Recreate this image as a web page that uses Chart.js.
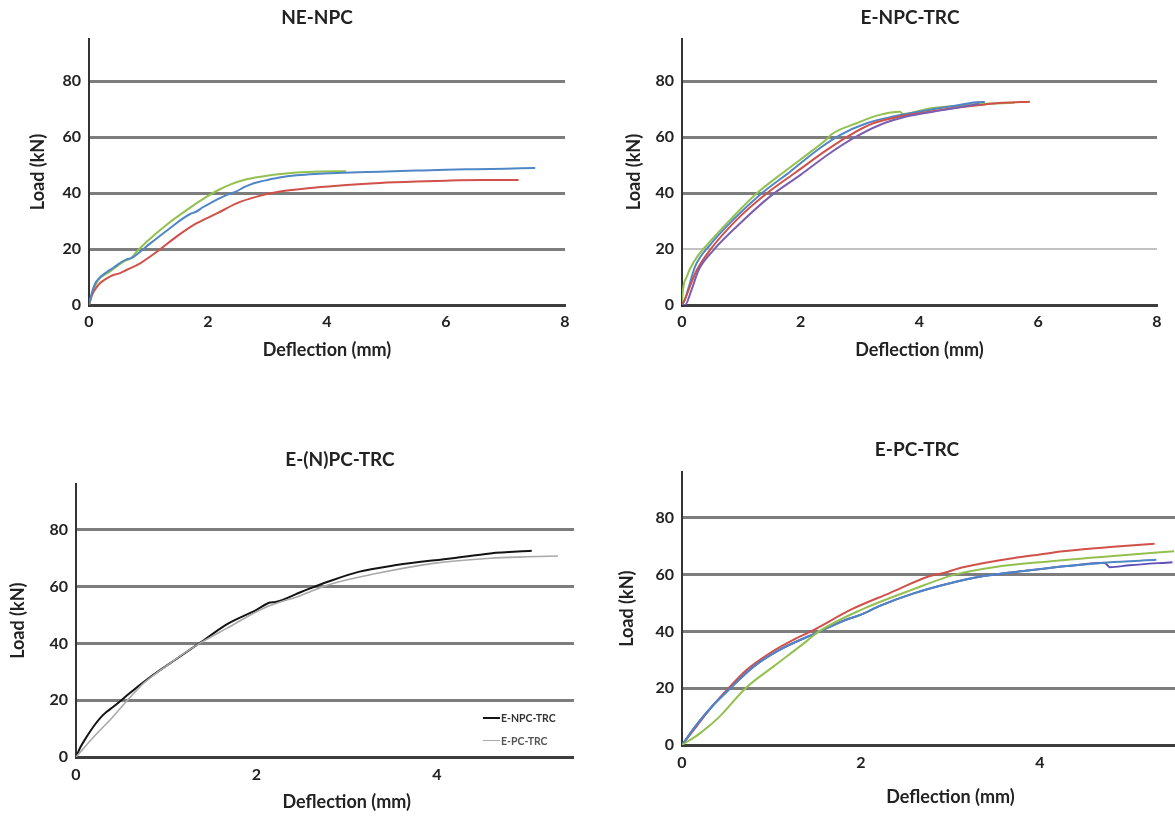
<!DOCTYPE html>
<html>
<head>
<meta charset="utf-8">
<script src="https://cdn.jsdelivr.net/npm/chart.js@4/dist/chart.umd.min.js"></script>
<style>
  html, body { margin: 0; padding: 0; background: #fff; }
  body { width: 1175px; height: 824px; overflow: hidden; position: relative; font-family: Lato, 'Open Sans', sans-serif; }
  .panel { position: absolute; }
  .legend-line { position: absolute; }
  .legend-text { position: absolute; font: bold 10.5px Lato, 'Open Sans', sans-serif; line-height: 12px; white-space: nowrap; }
</style>
</head>
<body>
<div class="panel" style="left:0;top:0;width:634px;height:380px"><canvas id="c1" width="634" height="380"></canvas></div>
<div class="panel" style="left:590px;top:0;width:640px;height:380px"><canvas id="c2" width="640" height="380"></canvas></div>
<div class="panel" style="left:0;top:430px;width:574px;height:394px;overflow:hidden"><canvas id="c3" width="680" height="394"></canvas></div>
<div class="panel" style="left:600px;top:430px;width:634px;height:394px"><canvas id="c4" width="634" height="394"></canvas></div>
<div id="legend3"></div>
<script>
// ---------- titles / labels ----------
const panelTitles = ['NE-NPC', 'E-NPC-TRC', 'E-(N)PC-TRC', 'E-PC-TRC'];
const xAxisTitle = 'Deflection (mm)';
const yAxisTitle = 'Load (kN)';
const yTickValues = [0, 20, 40, 60, 80];
const xTickStep = 2;

// ---------- NE-NPC ----------
const neNpcBlueX = [0, 0.05, 0.1, 0.18, 0.3, 0.41, 0.52, 0.63, 0.72, 0.83, 1.03, 1.2, 1.36, 1.55, 1.7, 1.8, 1.92, 2.05, 2.2, 2.35, 2.48, 2.6, 2.71, 2.85, 2.99, 3.2, 3.49, 3.8, 4.27, 4.89, 5.5, 6.0, 6.5, 7.0, 7.5];
const neNpcBlueY = [0, 4.5, 7.5, 9.8, 11.8, 13.3, 15, 16.3, 16.8, 18.5, 22, 24.8, 27.4, 30.5, 32.5, 33.3, 35, 36.5, 38.2, 39.6, 40.6, 42, 43, 43.9, 44.6, 45.5, 46.3, 46.8, 47.2, 47.6, 48.0, 48.3, 48.5, 48.7, 48.9];
const neNpcRedX = [0, 0.05, 0.1, 0.18, 0.3, 0.41, 0.5, 0.63, 0.86, 1.14, 1.47, 1.81, 2.15, 2.48, 2.82, 3.21, 3.77, 4.33, 4.89, 5.5, 6.0, 6.6, 7.22];
const neNpcRedY = [0, 3.5, 5.5, 7.7, 9.5, 10.7, 11.2, 12.5, 14.9, 19, 24.4, 29.2, 32.7, 36.3, 38.7, 40.5, 41.9, 42.9, 43.6, 44.1, 44.4, 44.6, 44.6];
const neNpcGreenX = [0, 0.05, 0.1, 0.18, 0.35, 0.58, 0.7, 0.8, 0.97, 1.3, 1.64, 1.98, 2.15, 2.37, 2.65, 2.99, 3.49, 3.9, 4.27, 4.32];
const neNpcGreenY = [0, 4, 6.8, 9.5, 11.9, 15.5, 16.6, 19, 22.6, 28.6, 33.9, 38.7, 40.8, 43, 44.9, 46.2, 47.3, 47.7, 47.8, 47.7];

// ---------- E-NPC-TRC ----------
const eNpcPurpleX = [0, 0.05, 0.16, 0.28, 0.53, 0.98, 1.48, 1.99, 2.49, 2.88, 3.33, 3.78, 4.4, 4.9, 5.0];
const eNpcPurpleY = [0, 0, 5.4, 12.5, 19.6, 29.2, 38.7, 46.4, 54.2, 59.5, 64.3, 67.3, 69.6, 71.4, 71.8];
const eNpcRedX = [0, 0.05, 0.13, 0.25, 0.47, 0.92, 1.43, 1.93, 2.44, 2.83, 3.22, 3.67, 4.34, 5.02, 5.4, 5.86];
const eNpcRedY = [0, 2, 6.5, 12.5, 19.6, 30.4, 39.9, 47.6, 55.4, 60.7, 64.9, 67.3, 69.6, 71.4, 72.2, 72.6];
const eNpcBlueX = [0, 0.05, 0.1, 0.22, 0.47, 0.86, 1.31, 1.82, 2.32, 2.66, 3.11, 3.56, 4.23, 4.6, 4.96, 5.1];
const eNpcBlueY = [0, 2, 5.4, 13.7, 21.4, 30.4, 39.3, 47.6, 56, 60.7, 64.9, 67.3, 69.9, 71.2, 72.4, 72.5];
const eNpcGreenX = [0, 0.01, 0.08, 0.22, 0.47, 0.81, 1.26, 1.76, 2.21, 2.45, 2.52, 2.94, 3.33, 3.67, 3.72, 4.17, 4.6, 5.01, 5.3, 5.6];
const eNpcGreenY = [0, 4, 10.1, 16.1, 22.6, 30.4, 39.9, 48.2, 55.4, 59.5, 61, 64.9, 67.9, 69, 68.2, 70.2, 71.1, 71.8, 72, 72.2];

// ---------- E-(N)PC-TRC ----------
const compareLabels = ['E-NPC-TRC', 'E-PC-TRC'];
const compNpcX = [0, 0.05, 0.12, 0.2, 0.27, 0.34, 0.41, 0.5, 0.58, 0.83, 1.12, 1.42, 1.67, 2.0, 2.15, 2.21, 2.5, 2.79, 3.13, 3.55, 4.17, 4.59, 5.05];
const compNpcY = [0, 3.5, 7.2, 11, 13.8, 15.9, 17.6, 19.9, 22.1, 28.3, 34.7, 41.2, 46.7, 51.8, 54.4, 54.6, 58.2, 61.7, 65.2, 67.6, 70, 71.7, 72.6];
const compPcX = [0, 0.2, 0.41, 0.54, 0.75, 1.04, 1.37, 1.67, 2.08, 2.5, 2.79, 3.34, 3.96, 4.59, 5.0, 5.34];
const compPcY = [0, 7.2, 14.2, 18.9, 26, 33, 40, 45.3, 52.4, 57, 60.6, 64.7, 68.2, 70, 70.5, 70.8];

// ---------- E-PC-TRC ----------
const ePcGreenX = [0, 0.2, 0.42, 0.71, 1.02, 1.39, 1.53, 2.0, 2.58, 3.05, 3.52, 4.0, 4.82, 5.5];
const ePcGreenY = [0, 4.1, 10, 20, 27.6, 36.5, 40, 47.6, 54.8, 60, 62.8, 64.4, 66.6, 68.2];
const ePcBlueX = [0, 0.16, 0.35, 0.54, 0.8, 1.09, 1.54, 1.84, 2.0, 2.21, 2.58, 2.96, 3.37, 3.89, 4.3, 4.75, 5.3];
const ePcBlueY = [0, 7, 14.1, 20, 27.6, 33.5, 40, 44.2, 45.9, 49, 53.3, 56.7, 59.5, 61.5, 63, 64.3, 65.2];
const ePcPurpleX = [0, 0.16, 0.35, 0.54, 0.8, 1.09, 1.54, 1.84, 2.0, 2.21, 2.58, 2.96, 3.37, 3.89, 4.3, 4.72, 4.78, 5.0, 5.48];
const ePcPurpleY = [0, 7, 14.1, 20, 27.6, 33.5, 40, 44.2, 45.9, 49, 53.3, 56.7, 59.5, 61.5, 63, 64.2, 62.6, 63.3, 64.4];
const ePcRedX = [0, 0.16, 0.35, 0.52, 0.72, 0.98, 1.28, 1.44, 1.91, 2.32, 2.77, 2.91, 3.14, 3.7, 4.0, 4.26, 4.82, 5.28];
const ePcRedY = [0, 6.5, 14.1, 20.0, 26.4, 32.3, 37.6, 40, 48, 53.5, 59.5, 60.5, 62.6, 65.8, 67.1, 68.2, 69.8, 70.9];

// ---------- colours ----------
const BLUE = '#4f86c6', RED = '#d0504a', GREEN = '#93c04f', PURPLE = '#7a5fb0', PURPLE2 = '#5f50b8';
const FONT = "Lato, 'Open Sans', sans-serif";

function series(label, xs, ys, color, width) {
  return { label, xs, ys, color, width: width || 2 };
}

function buildChart(id, cfg) {
  const datasets = cfg.series.map(s => ({
    label: s.label,
    data: s.xs.map((x, i) => ({ x: x, y: s.ys[i] })),
    borderColor: s.color,
    backgroundColor: s.color,
    borderWidth: s.width,
    pointRadius: 0,
    fill: false,
    cubicInterpolationMode: 'monotone',
    xAxisID: 'x',
    yAxisID: 'y'
  }));
  return new Chart(document.getElementById(id), {
    type: 'line',
    data: { datasets },
    options: {
      responsive: false,
      animation: false,
      devicePixelRatio: 1,
      layout: { padding: 0 },
      plugins: {
        legend: { display: false },
        tooltip: { enabled: false },
        title: {
          display: true, text: cfg.title, color: '#222',
          font: { family: FONT, size: 19, weight: 'bold' },
          padding: { top: cfg.titleTop, bottom: cfg.titleBottom }
        }
      },
      scales: {
        x: {
          type: 'linear', position: 'bottom', min: 0, max: cfg.xMax,
          afterBuildTicks: ax => { ax.ticks = ax.ticks.filter(t => Math.abs(t.value % xTickStep) < 1e-9); },
          afterFit: ax => { ax.height = cfg.xAxisH; },
          ticks: { stepSize: xTickStep, padding: cfg.xTickPad, color: '#222', font: { family: FONT, size: 16, weight: 'bold' } },
          grid: { display: false, drawTicks: false },
          border: { display: true, color: '#3d3d3d', width: 3 },
          title: { display: true, text: xAxisTitle, color: '#222', font: { family: FONT, size: 18, weight: 'bold' }, padding: { top: 0, bottom: cfg.xTitleBottom } }
        },
        y: {
          type: 'linear', position: 'left', min: 0, max: cfg.yMax,
          afterBuildTicks: ax => { ax.ticks = ax.ticks.filter(t => yTickValues.includes(t.value)); },
          afterFit: ax => { ax.width = cfg.yAxisW; },
          ticks: { stepSize: 20, padding: 8, color: '#222', font: { family: FONT, size: 16, weight: 'bold' } },
          grid: {
            drawTicks: false,
            color: c => c.tick && c.tick.value === 0 ? '#3d3d3d' : (cfg.light20 && c.tick && c.tick.value === 20 ? '#c2c2c2' : '#7d7d7d'),
            lineWidth: c => c.tick && c.tick.value === 20 && cfg.light20 ? 2 : 3
          },
          border: { display: true, color: '#333', width: 2 },
          title: { display: true, text: yAxisTitle, color: '#222', font: { family: FONT, size: 18, weight: 'bold' }, padding: { top: cfg.yTitleTop, bottom: 0 } }
        },
        pad: {
          type: 'linear', position: 'right', display: true,
          afterFit: ax => { ax.width = cfg.rightW; },
          ticks: { display: false },
          grid: { display: false, drawTicks: false },
          border: { display: false },
          title: { display: false }
        }
      }
    }
  });
}

buildChart('c1', {
  title: panelTitles[0], xMax: 8, yMax: 95,
  yAxisW: 89, rightW: 69, xAxisH: 75,
  titleTop: 6.6, titleBottom: 9.6, xTickPad: 7, xTitleBottom: 19.2, yTitleTop: 27.2,
  series: [
    series('NE-NPC 1', neNpcBlueX, neNpcBlueY, BLUE),
    series('NE-NPC 2', neNpcRedX, neNpcRedY, RED),
    series('NE-NPC 3', neNpcGreenX, neNpcGreenY, GREEN)
  ]
});

buildChart('c2', {
  title: panelTitles[1], xMax: 8, yMax: 95, light20: true,
  yAxisW: 92, rightW: 73, xAxisH: 75,
  titleTop: 6.6, titleBottom: 9.6, xTickPad: 7, xTitleBottom: 19.2, yTitleTop: 33.2,
  series: [
    series('E-NPC-TRC 1', eNpcPurpleX, eNpcPurpleY, PURPLE),
    series('E-NPC-TRC 2', eNpcRedX, eNpcRedY, RED),
    series('E-NPC-TRC 3', eNpcBlueX, eNpcBlueY, BLUE),
    series('E-NPC-TRC 4', eNpcGreenX, eNpcGreenY, GREEN)
  ]
});

buildChart('c3', {
  title: panelTitles[2], xMax: 6, yMax: 96,
  yAxisW: 76, rightW: 62.5, xAxisH: 67,
  titleTop: 18.6, titleBottom: 13, xTickPad: 8.4, xTitleBottom: 11.2, yTitleTop: 7.2,
  series: [
    series(compareLabels[1], compPcX, compPcY, '#a9a9a9', 1.6),
    series(compareLabels[0], compNpcX, compNpcY, '#141414', 2)
  ]
});

buildChart('c4', {
  title: panelTitles[3], xMax: 6, yMax: 96,
  yAxisW: 82, rightW: 15, xAxisH: 79,
  titleTop: 8.6, titleBottom: 11, xTickPad: 8.4, xTitleBottom: 16.2, yTitleTop: 16.2,
  series: [
    series('E-PC-TRC 1', ePcGreenX, ePcGreenY, GREEN),
    series('E-PC-TRC 2', ePcBlueX, ePcBlueY, BLUE),
    series('E-PC-TRC 3', ePcPurpleX, ePcPurpleY, PURPLE2),
    series('E-PC-TRC 4', ePcRedX, ePcRedY, RED)
  ]
});

// legend for E-(N)PC-TRC (inside plot, lower right)
(function () {
  const host = document.getElementById('legend3');
  const items = [
    { label: compareLabels[0], color: '#141414', h: 2, top: 717, text: '#333' },
    { label: compareLabels[1], color: '#a9a9a9', h: 1.5, top: 739.5, text: '#555' }
  ];
  items.forEach(it => {
    const ln = document.createElement('div');
    ln.className = 'legend-line';
    ln.style.cssText = `left:483px;top:${it.top}px;width:17px;height:${it.h}px;background:${it.color}`;
    host.appendChild(ln);
    const tx = document.createElement('div');
    tx.className = 'legend-text';
    tx.style.cssText = `left:501px;top:${it.top - 5}px;color:${it.text}`;
    tx.textContent = it.label;
    host.appendChild(tx);
  });
})();
</script>
</body>
</html>
